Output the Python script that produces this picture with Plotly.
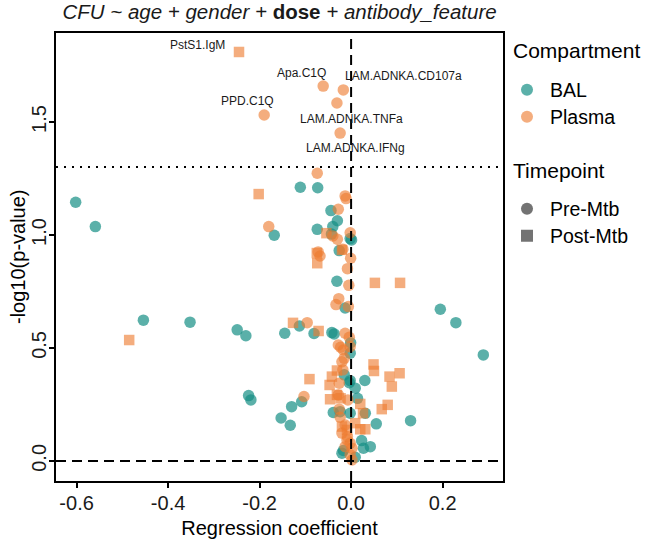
import math
import plotly.graph_objects as go

# ---------------- data ----------------
# BAL compartment, Pre-Mtb timepoint (circles)
bal_pre_coef = [-0.602, -0.559, -0.168, -0.454, -0.352, -0.249, -0.230, -0.145, -0.224, -0.219,
                -0.153, -0.133, -0.130, -0.108, -0.111, -0.073, -0.044, -0.030, -0.040, -0.074,
                -0.043, -0.002, 0.001, -0.026, -0.031, -0.013, -0.113, -0.081, -0.042, -0.037,
                -0.001, -0.002, -0.015, -0.002, 0.030, 0.009, -0.004, 0.014, -0.039, -0.024,
                -0.002, 0.031, 0.055, 0.130, 0.023, 0.042, 0.027, -0.017, -0.020, 0.009,
                0.195, 0.229, 0.289]
bal_pre_logp = [1.145, 1.037, 0.999, 0.623, 0.614, 0.580, 0.554, 0.565, 0.289, 0.270,
                0.190, 0.158, 0.240, 0.262, 1.211, 1.209, 1.108, 1.063, 1.037, 1.025,
                1.004, 0.984, 0.978, 0.931, 0.795, 0.677, 0.597, 0.564, 0.568, 0.562,
                0.523, 0.477, 0.381, 0.355, 0.356, 0.322, 0.346, 0.277, 0.214, 0.218,
                0.211, 0.211, 0.164, 0.178, 0.090, 0.063, 0.056, 0.046, 0.034, 0.016,
                0.671, 0.612, 0.469]

# Plasma compartment, Pre-Mtb timepoint (circles); first five are labelled
plasma_pre_names = ["PPD.C1Q", "Apa.C1Q", "LAM.ADNKA.CD107a", "LAM.ADNKA.TNFa", "LAM.ADNKA.IFNg"]
plasma_pre_coef = [-0.190, -0.061, -0.017, -0.031, -0.024, -0.074, -0.180, -0.013, -0.011, -0.028,
                   -0.040, -0.030, -0.002, -0.068, -0.072, -0.018, -0.001, -0.008, -0.005, -0.027,
                   -0.033, -0.006, -0.096, -0.013, -0.004, -0.028, -0.023, -0.017, -0.002, -0.015,
                   -0.020, -0.026, -0.103, -0.026, -0.024, -0.020, -0.008, -0.009, -0.002, -0.013,
                   0.002, -0.002, 0.002, -0.018, -0.028, -0.007, -0.013]
plasma_pre_logp = [1.531, 1.659, 1.642, 1.584, 1.451, 1.273, 1.037, 1.173, 1.161, 1.114,
                   0.996, 0.981, 1.010, 0.907, 0.925, 0.937, 0.897, 0.851, 0.777, 0.718,
                   0.692, 0.683, 0.612, 0.565, 0.547, 0.513, 0.503, 0.491, 0.506, 0.454,
                   0.439, 0.344, 0.285, 0.229, 0.193, 0.123, 0.108, 0.093, 0.078, 0.063,
                   0.056, 0.027, 0.004, 0.403, 0.292, 0.270, 0.159]

# Plasma compartment, Post-Mtb timepoint (squares); first one is labelled
plasma_post_names = ["PstS1.IgM"]
plasma_post_coef = [-0.245, -0.202, -0.485, -0.127, -0.054, -0.075, -0.074, 0.052, 0.107, -0.071,
                    0.049, 0.050, 0.106, 0.084, 0.089, 0.080, 0.067, -0.091, -0.031, -0.042,
                    -0.047, -0.031, -0.023, -0.046, 0.020, 0.026, -0.020, -0.009, 0.009, 0.020,
                    0.031, -0.020]
plasma_post_logp = [1.810, 1.181, 0.535, 0.611, 1.008, 0.920, 0.875, 0.788, 0.788, 0.575,
                    0.427, 0.398, 0.388, 0.373, 0.329, 0.248, 0.229, 0.362, 0.400, 0.373,
                    0.336, 0.292, 0.277, 0.273, 0.252, 0.211, 0.152, 0.137, 0.167, 0.140,
                    0.140, 0.934]

p_cutoff = 0.05
x_ticks = [-0.6, -0.4, -0.2, 0.0, 0.2]
y_ticks = [0.0, 0.5, 1.0, 1.5]

# ---------------- styles ----------------
TEAL = "rgba(22,143,133,0.70)"
ORANGE = "rgba(238,122,46,0.62)"
GREY = "rgba(90,90,90,0.85)"
FONT = "Liberation Sans, Arial, sans-serif"
W, H = 650, 542
ML, MR, MT, MB = 56, 147, 33, 61
PW, PH = W - ML - MR, H - MT - MB

fig = go.Figure()

def add_points(xs, ys, color, symbol, size):
    fig.add_trace(go.Scatter(
        x=xs, y=ys, mode="markers", showlegend=False, hoverinfo="skip",
        marker=dict(color=color, symbol=symbol, size=size, line=dict(width=0)),
    ))

add_points(bal_pre_coef, bal_pre_logp, TEAL, "circle", 11.5)
add_points(plasma_pre_coef, plasma_pre_logp, ORANGE, "circle", 11.5)
add_points(plasma_post_coef, plasma_post_logp, ORANGE, "square", 10.5)

# legend entries: one legend per entry so each row can be placed like the reference
legend_rows = [("BAL", TEAL, "circle", 90), ("Plasma", ORANGE, "circle", 117),
               ("Pre-Mtb", GREY, "circle", 209), ("Post-Mtb", GREY, "square", 236)]
legend_layout = {}
for i, (name, color, symbol, ypx) in enumerate(legend_rows):
    key = "legend" if i == 0 else f"legend{i + 1}"
    fig.add_trace(go.Scatter(
        x=[None], y=[None], mode="markers", name=name, legend=key,
        marker=dict(color=color, symbol=symbol, size=8, line=dict(width=0)),
    ))
    legend_layout[key] = dict(
        font=dict(size=19.5, color="black", family=FONT),
        x=504 / W, xref="container", xanchor="left",
        y=1 - ypx / H, yref="container", yanchor="middle",
        bgcolor="rgba(0,0,0,0)", itemsizing="constant", itemwidth=36,
    )

# legend titles
for txt, ypx in [("Compartment", 50), ("Timepoint", 170)]:
    fig.add_annotation(text=txt, xref="paper", yref="paper", x=(511 - ML) / PW,
                       y=1 - (ypx - MT) / PH, xanchor="left", yanchor="middle", showarrow=False,
                       font=dict(family=FONT, size=21, color="black"))

# y-axis title
fig.add_annotation(text="-log10(p-value)", xref="paper", yref="paper", x=(18 - ML) / PW,
                   y=0.5, xanchor="center", yanchor="middle", textangle=-90, showarrow=False,
                   font=dict(family=FONT, size=20, color="black"))

# reference lines
thr = -math.log10(p_cutoff)
fig.add_shape(type="line", xref="paper", x0=0, x1=1, yref="y", y0=thr, y1=thr,
              line=dict(color="black", width=2, dash="2px,6px"))
fig.add_shape(type="line", xref="paper", x0=0, x1=1, yref="y", y0=0, y1=0,
              line=dict(color="black", width=2, dash="10px,6px"))
fig.add_shape(type="line", xref="x", x0=0, x1=0, yref="paper", y0=0, y1=1,
              line=dict(color="black", width=2, dash="10px,6px"))

# labels (repelled text)
label_offsets = {
    "PstS1.IgM": (-12, 7, "right"),
    "Apa.C1Q": (5, 13, "right"),
    "LAM.ADNKA.CD107a": (0, 14, "left"),
    "PPD.C1Q": (12, 14, "right"),
    "LAM.ADNKA.TNFa": (-39, -16, "left"),
    "LAM.ADNKA.IFNg": (-36, -15, "left"),
}
labelled = list(zip(plasma_post_names, plasma_post_coef, plasma_post_logp)) + \
           list(zip(plasma_pre_names, plasma_pre_coef, plasma_pre_logp))
for name, xv, yv in labelled:
    dx, dy, anchor = label_offsets[name]
    fig.add_annotation(x=xv, y=yv, text=name, showarrow=False, xanchor=anchor, yanchor="middle",
                       xshift=dx, yshift=dy, font=dict(family=FONT, size=12, color="#1a1a1a"))

fig.update_layout(
    width=W, height=H,
    margin=dict(l=ML, r=MR, t=MT, b=MB, autoexpand=False),
    paper_bgcolor="white", plot_bgcolor="white",
    font=dict(family=FONT, color="#1a1a1a"),
    title=dict(
        text="<i>CFU ~ age + gender + </i><b>dose</b><i> + antibody_feature</i>",
        x=0.5, xref="paper", xanchor="center", y=1 - 12 / H, yref="container", yanchor="middle",
        font=dict(family=FONT, size=20.5, color="#1a1a1a"),
    ),
    xaxis=dict(
        range=[-0.645, 0.332], tickvals=x_ticks, ticktext=[f"{v:.1f}" for v in x_ticks],
        showgrid=False, zeroline=False, showline=True, mirror=True, linecolor="black", linewidth=2,
        ticks="outside", ticklen=5, tickwidth=1.5, tickcolor="black", automargin=False,
        ticklabelstandoff=-2,
        tickfont=dict(size=20, color="#1a1a1a"),
        title=dict(text="Regression coefficient", font=dict(size=20, color="black"), standoff=8),
    ),
    yaxis=dict(
        range=[-0.089, 1.894], tickvals=y_ticks, ticktext=[f"{v:.1f}" for v in y_ticks],
        showgrid=False, zeroline=False, showline=True, mirror=True, linecolor="black", linewidth=2,
        ticks="outside", ticklen=5, tickwidth=1.5, tickcolor="black", tickangle=-90,
        automargin=False, ticklabelstandoff=-5,
        tickfont=dict(size=20, color="#1a1a1a"),
    ),
    **legend_layout,
)

fig.write_html("out.html", config={"displayModeBar": False},
               post_script="document.body.style.margin='0';")
